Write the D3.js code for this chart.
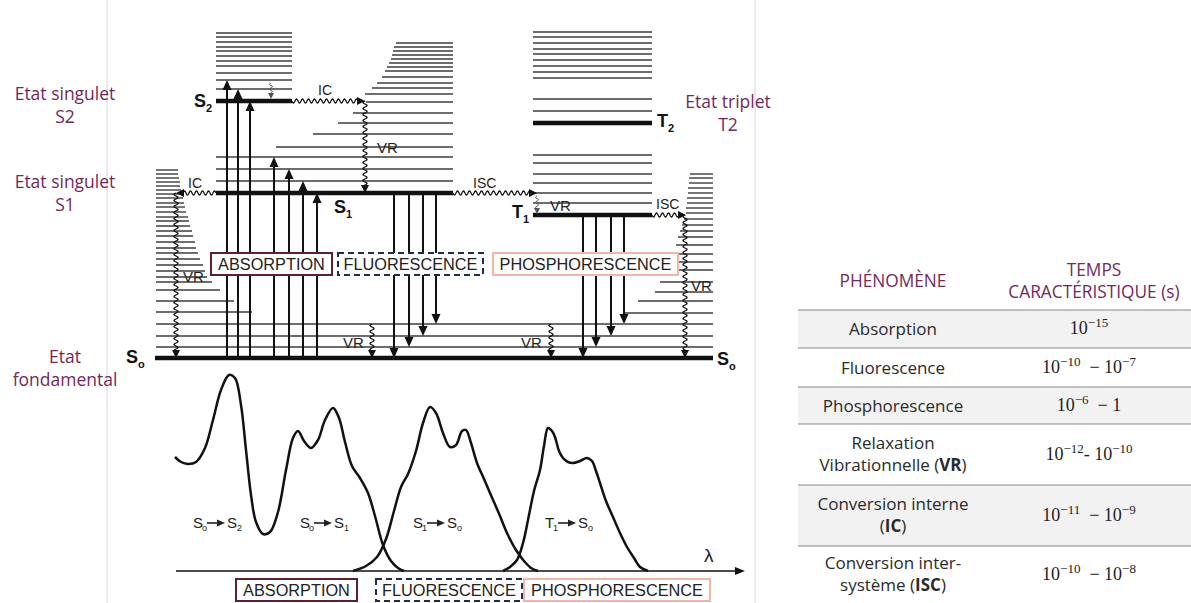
<!DOCTYPE html>
<html><head><meta charset="utf-8">
<script src="https://cdn.jsdelivr.net/npm/d3@7"></script>
<style>body{margin:0;background:#fff;} svg{display:block;}</style>
</head><body>
<svg id="c" width="1191" height="603"></svg>
<script>
// ================= DATA =================
// Energies are measured upward from the ground state S0 (arbitrary units).
const stateNames   = ["S0", "S1", "S2", "T1", "T2"];
const stateEnergy  = [0, 165, 257, 143, 235];

// vibrational sub-levels
const groundVib      = [11, 22, 34];
const s0LeftLadder   = [[46,252],[57,234],[68,220],[76,212],[81,207],[87,205],[93,203],[99,200],[105,198],[110,196],[116,195],[122,193],[127,192],[132,190],[137,189],[141,188],[146,186],[151,185],[155,184],[160,183],[164,182],[168,181],[172,180],[176,180],[180,179],[184,178],[188,178]];
const s0RightLadder  = [[45,623],[57,638],[66,655],[76,660],[88,666],[96,670],[104,673],[113,676],[121,678],[127,680],[133,682],[139,684],[145,686],[150,686],[155,687],[160,687],[165,688],[170,688],[175,689],[180,689],[184,690]];
const s1Ladder       = [[177,216],[189,216],[201,216],[211,276],[224,313],[235,338],[245,353],[256,366],[264,365],[270,372],[275,377],[281,382],[287,385],[291,387],[295,389],[299,391],[303,392],[307,393],[311,394],[315,396]];
const s2Ladder       = [269,278,285,292,297,302,307,311,316,321,325];
const tLadder        = [155,165,175,184,195,203,247,259,280,286,292,298,304,309,315,321,326];

// radiative transitions
const absorptionTargets   = [278, 269, 257, 201, 189, 177, 165];
const fluorescenceTargets = [0, 11, 22, 34];
const phosphorTargets     = [0, 11, 22, 34];

// spectra: [wavelength position, intensity]
const absorptionSpectrum = [[175,114],[181,109],[188,107],[196,109],[205,123],[213,151],[221,181],[229,196],[235,193],[241,166],[246,121],[251,76],[256,49],[263,37],[270,39],[278,59],[286,101],[293,133],[298,140],[304,130],[311,123],[318,131],[325,151],[333,163],[339,153],[345,129],[352,105],[360,93],[368,78],[375,55],[383,26],[391,10],[398,3],[404,0]];
const fluorescenceSpectrum = [[353,0],[366,5],[377,14],[386,32],[394,60],[401,84],[408,97],[416,120],[423,148],[430,164],[436,158],[443,138],[450,124],[456,126],[462,140],[466,141],[471,128],[477,108],[484,92],[490,78],[500,55],[507,38],[516,21],[524,10],[531,3],[538,0]];
const phosphorSpectrum = [[503,0],[510,4],[517,11],[523,28],[528,51],[534,80],[540,101],[544,125],[548,143],[552,140],[555,134],[559,120],[563,113],[568,109],[573,108],[580,110],[587,113],[592,110],[596,100],[600,88],[606,70],[613,54],[620,38],[627,24],[634,13],[640,4],[648,0]];

// table
const tableHeaders = ["PHÉNOMÈNE", "TEMPS|CARACTÉRISTIQUE (s)"];
const phenomena = ["Absorption","Fluorescence","Phosphorescence","Relaxation|Vibrationnelle (**VR**)","Conversion interne|(**IC**)","Conversion inter-|système (**ISC**)"];
const timeValues = [
  [["10","−15"]],
  [["10","−10"],"\u00a0\u00a0− ",["10","−7"]],
  [["10","−6"],"\u00a0\u00a0− 1"],
  [["10","−12"],"- ",["10","−10"]],
  [["10","−11"],"\u00a0\u00a0− ",["10","−9"]],
  [["10","−10"],"\u00a0\u00a0− ",["10","−8"]]
];

// ================= DRAWING =================
const svg = d3.select("#c");
const gx = d3.scaleLinear().domain([0,1191]).range([0,1191]);
const gy = d3.scaleLinear().domain([0,340]).range([358,18]);
const gs = d3.scaleLinear().domain([0,200]).range([571,371]);
const E = name => stateEnergy[stateNames.indexOf(name)];
const INK = "#111", THIN = "#3c3c3c", SANS = "Liberation Sans, Arial, sans-serif";
const PURPLE = "#74285c";

// frame lines
[107,755].forEach(x => svg.append("line").attr("x1",x).attr("x2",x).attr("y1",0).attr("y2",603).attr("stroke","#d6d6d6").attr("stroke-width",1));

const lv = svg.append("g");
function hl(x1,x2,e,w,c){
  lv.append("line").attr("x1",gx(x1)).attr("x2",gx(x2)).attr("y1",gy(e)).attr("y2",gy(e))
    .attr("stroke",c||THIN).attr("stroke-width",w||1.4);
}
// vibrational ladders
groundVib.forEach(e => hl(156,713,e));
s0LeftLadder.forEach(([e,x2]) => hl(156,x2,e));
s0RightLadder.forEach(([e,x1]) => hl(x1,713,e));
s1Ladder.forEach(([e,x1]) => hl(x1,453,e));
s2Ladder.forEach(e => hl(216,292,e));
tLadder.forEach(e => hl(533,652,e));
// electronic states
hl(155,713,E("S0"),4.5,INK);
hl(216,453,E("S1"),4.5,INK);
hl(216,292,E("S2"),4.5,INK);
hl(533,652,E("T1"),4.5,INK);
hl(533,652,E("T2"),4.5,INK);

const ar = svg.append("g");
function head(g,x,y,ux,uy,len,hw,c){
  const nx=-uy, ny=ux, bx=x-ux*len, by=y-uy*len;
  g.append("path").attr("d",`M${x},${y}L${bx+nx*hw},${by+ny*hw}L${bx-nx*hw},${by-ny*hw}Z`).attr("fill",c||INK);
}
function arrow(x,e1,e2){
  const y1=gy(e1), y2=gy(e2), d=Math.sign(y2-y1), len=10;
  ar.append("line").attr("x1",gx(x)).attr("x2",gx(x)).attr("y1",y1).attr("y2",y2-d*(len-1))
    .attr("stroke",INK).attr("stroke-width",2);
  head(ar,gx(x),y2,0,d,len,4.5);
}
const absX = [227,238,250,274,289,303,317];
absorptionTargets.forEach((e,i)=>arrow(absX[i],0,e));
const flX = [394,409,423,436];
fluorescenceTargets.forEach((e,i)=>arrow(flX[i],E("S1"),e));
const phX = [583,596,611,624];
phosphorTargets.forEach((e,i)=>arrow(phX[i],E("T1"),e));

function wavy(x1,e1,x2,e2,opt){
  opt=opt||{};
  const X1=gx(x1),Y1=gy(e1),X2=gx(x2),Y2=gy(e2);
  const dx=X2-X1, dy=Y2-Y1, L=Math.hypot(dx,dy), ux=dx/L, uy=dy/L, nx=-uy, ny=ux;
  const amp=opt.amp||2, wl=opt.wl||6, len=opt.len||8, Lw=L-len+1;
  const pts=[]; const n=Math.max(4,Math.round(Lw*2));
  for(let i=0;i<=n;i++){const s=Lw*i/n; const o=amp*Math.sin(2*Math.PI*s/wl); pts.push([X1+ux*s+nx*o, Y1+uy*s+ny*o]);}
  ar.append("path").attr("d",d3.line()(pts)).attr("fill","none").attr("stroke",opt.c||INK).attr("stroke-width",opt.w||1.3);
  head(ar,X2,Y2,ux,uy,len,opt.hw||4,opt.c);
}
wavy(271,275,271,259,{amp:1.5,wl:5,len:6,hw:3,w:1,c:"#555"});
wavy(292,E("S2"),365,E("S2"));
wavy(365,E("S2"),365,E("S1"));
wavy(216,E("S1"),176,E("S1"));
wavy(176,E("S1"),176,0);
wavy(453,E("S1"),537,E("S1"));
wavy(537,162,537,E("T1")+1,{amp:1.5,wl:5,len:6,hw:3,w:1,c:"#555"});
wavy(652,E("T1"),686,E("T1"));
wavy(685,E("T1"),685,0);
wavy(372,34,372,0);
wavy(551,34,551,0);

// process labels
const procLabels = [["IC",318,263],["VR",377,205],["IC",188,170],["VR",183,76],["ISC",473,170],["VR",550,147],["ISC",656,149],["VR",691,67],["VR",343,10],["VR",521,10]];
procLabels.forEach(([t,x,e]) => svg.append("text").attr("x",gx(x)).attr("y",gy(e))
  .style("font-family",SANS).style("font-size",t==="VR"?"15px":"14px").attr("fill","#222").text(t));

// state labels (bold letter + subscript)
function stateLabel(x,y,letter,sub,fs){
  const t=svg.append("text").attr("x",x).attr("y",y).style("font-family",SANS).style("font-weight","bold").style("font-size",fs+"px").attr("fill",INK);
  t.append("tspan").text(letter);
  t.append("tspan").attr("dy",5).style("font-size",Math.round(fs*0.62)+"px").text(sub);
}
stateLabel(194,gy(E("S2"))+6,"S","2",18);
stateLabel(334,gy(E("S1"))+20,"S","1",18);
stateLabel(126,gy(0)+5,"S","o",18);
stateLabel(717,gy(0)+7,"S","o",18);
stateLabel(657,gy(E("T2"))+4,"T","2",18);
stateLabel(512,gy(E("T1"))+3,"T","1",18);

// boxes
const boxes = [
  {t:"ABSORPTION",x:211,y:253,w:121,h:22,c:"#5e1f30",dash:null},
  {t:"FLUORESCENCE",x:338,y:253,w:145,h:22,c:"#1f2a5c",dash:"6,4"},
  {t:"PHOSPHORESCENCE",x:493,y:253,w:185,h:22,c:"#f2b7a2",dash:null},
  {t:"ABSORPTION",x:236,y:579,w:121,h:22,c:"#5e1f30",dash:null},
  {t:"FLUORESCENCE",x:376,y:579,w:146,h:22,c:"#1f2a5c",dash:"6,4"},
  {t:"PHOSPHORESCENCE",x:524,y:579,w:186,h:22,c:"#f2b7a2",dash:null}
];
boxes.forEach(b=>{
  svg.append("rect").attr("x",b.x).attr("y",b.y).attr("width",b.w).attr("height",b.h)
    .attr("fill","#fff").attr("stroke",b.c).attr("stroke-width",2).attr("stroke-dasharray",b.dash);
  svg.append("text").attr("x",b.x+b.w/2).attr("y",b.y+b.h/2+6).attr("text-anchor","middle")
    .style("font-family",SANS).style("font-size","16.3px").attr("fill","#222").text(b.t);
});

// spectra
const sp = svg.append("g");
sp.append("line").attr("x1",176).attr("x2",737).attr("y1",gs(0)).attr("y2",gs(0)).attr("stroke",INK).attr("stroke-width",1.5);
head(sp,745,gs(0),1,0,10,4);
svg.append("text").attr("x",704).attr("y",562).style("font-family",SANS).style("font-size","19px").attr("fill","#222").text("λ");
const specLine = d3.line().x(d=>gx(d[0])).y(d=>gs(d[1])).curve(d3.curveCatmullRom.alpha(0.5));
[absorptionSpectrum,fluorescenceSpectrum,phosphorSpectrum].forEach(s =>
  sp.append("path").attr("d",specLine(s)).attr("fill","none").attr("stroke",INK).attr("stroke-width",2.5).attr("stroke-linejoin","round"));

function specLabel(x,y,a,as,b,bs){
  const g=svg.append("g").style("font-family",SANS).attr("fill","#222");
  g.append("text").attr("x",x).attr("y",y).style("font-size","15px").text(a);
  const w=a==="T"?9:10;
  g.append("text").attr("x",x+w-1).attr("y",y+3).style("font-size","9px").text(as);
  g.append("line").attr("x1",x+w+4).attr("x2",x+w+15).attr("y1",y-5).attr("y2",y-5).attr("stroke","#222").attr("stroke-width",1.6);
  head(g,x+w+22,y-5,1,0,8,3.5,"#222");
  g.append("text").attr("x",x+w+24).attr("y",y).style("font-size","15px").text(b);
  g.append("text").attr("x",x+w+34).attr("y",y+3).style("font-size","9px").text(bs);
}
specLabel(193,528,"S","o","S","2");
specLabel(300,528,"S","o","S","1");
specLabel(413,528,"S","1","S","o");
specLabel(545,528,"T","1","S","o");

// left / right state captions
const captions = [["Etat singulet",65,100],["S2",65,123],["Etat singulet",65,188],["S1",65,211],["Etat",65,363],["fondamental",65,386],["Etat triplet",728,108],["T2",728,131]];
captions.forEach(([t,x,y]) => svg.append("text").attr("x",x).attr("y",y).attr("text-anchor","middle")
  .style("font-family","Open Sans, sans-serif").style("font-size","17.5px").attr("fill",PURPLE).text(t));

// ================= TABLE =================
const tb = svg.append("g");
const rowEdges = [310,348,387,424,485,546,603];
const colL = 893, colR = 1089, colRH = 1094, tx0 = 798, tx1 = 1191;
phenomena.forEach((p,i)=>{
  if(i%2===0) tb.append("rect").attr("x",tx0).attr("y",rowEdges[i]).attr("width",tx1-tx0).attr("height",rowEdges[i+1]-rowEdges[i]).attr("fill","#f2f2f2");
});
rowEdges.slice(0,6).forEach(y => tb.append("line").attr("x1",tx0).attr("x2",tx1).attr("y1",y).attr("y2",y).attr("stroke","#8a8a8a").attr("stroke-width",1.2));

function richText(x,y,str){
  const t=tb.append("text").attr("x",x).attr("y",y).attr("text-anchor","middle")
    .style("font-family","Open Sans, sans-serif").style("font-size","17px").attr("fill","#2a2a2a");
  str.split("**").forEach((seg,k)=>{ if(seg) t.append("tspan").style("font-weight",k%2?"bold":"normal").text(seg); });
}
// headers
tb.append("text").attr("x",colL).attr("y",287).attr("text-anchor","middle").style("font-family","Open Sans, sans-serif").style("font-size","17.3px").attr("fill",PURPLE).text(tableHeaders[0]);
tableHeaders[1].split("|").forEach((l,k)=>tb.append("text").attr("x",colRH).attr("y",276+k*22).attr("text-anchor","middle").style("font-family","Open Sans, sans-serif").style("font-size","17.3px").attr("fill",PURPLE).text(l));

phenomena.forEach((p,i)=>{
  const c=(rowEdges[i]+rowEdges[i+1])/2;
  const lines=p.split("|");
  if(lines.length===1) richText(colL,c+6,lines[0]);
  else { richText(colL,c-5.5,lines[0]); richText(colL,c+16.5,lines[1]); }
  // time
  const t=tb.append("text").attr("x",colR).attr("y",c+5).attr("text-anchor","middle")
    .style("font-family","Liberation Serif, serif").style("font-size","18px").attr("fill","#222");
  let raised=false;
  timeValues[i].forEach(tok=>{
    if(Array.isArray(tok)){
      t.append("tspan").attr("dy",raised?7:0).text(tok[0]);
      t.append("tspan").attr("dy",-7).style("font-size","13px").text(tok[1]);
      raised=true;
    } else { t.append("tspan").attr("dy",raised?7:0).text(tok); raised=false; }
  });
});
</script>
</body></html>
